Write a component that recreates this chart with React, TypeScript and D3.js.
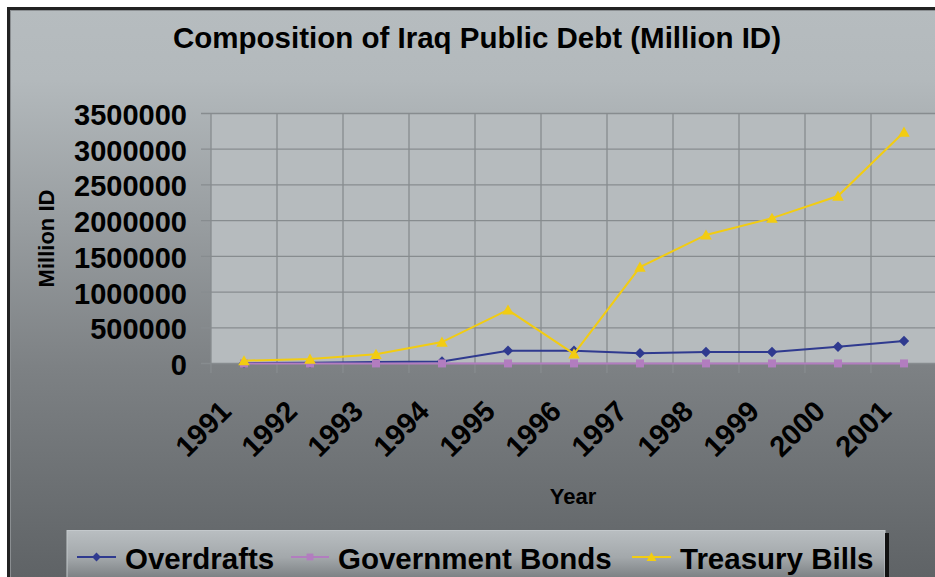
import React from 'react';
import * as d3 from 'd3';

const years = ['1991', '1992', '1993', '1994', '1995', '1996', '1997', '1998', '1999', '2000', '2001'];
const overdrafts = [5000, 10000, 20000, 28000, 180000, 180000, 145000, 160000, 160000, 235000, 315000];
const governmentBonds = [1000, 1000, 1000, 1000, 1000, 1000, 1000, 1000, 1000, 1000, 1000];
const treasuryBills = [40000, 63000, 130000, 300000, 750000, 135000, 1350000, 1800000, 2035000, 2345000, 3240000];
const yTicks = [0, 500000, 1000000, 1500000, 2000000, 2500000, 3000000, 3500000];
const seriesNames = ['Overdrafts', 'Government Bonds', 'Treasury Bills'];

const FONT = '"Liberation Sans", Arial, Helvetica, sans-serif';
const W = 935;
const H = 577;

const diamond = (cx: number, cy: number, r: number) =>
  `M${cx},${cy - r}L${cx + r},${cy}L${cx},${cy + r}L${cx - r},${cy}Z`;
const square = (cx: number, cy: number, r: number) =>
  `M${cx - r},${cy - r}H${cx + r}V${cy + r}H${cx - r}Z`;
const triangle = (cx: number, cy: number, r: number) =>
  `M${cx},${cy - r}L${cx + r * 1.05},${cy + r * 0.85}L${cx - r * 1.05},${cy + r * 0.85}Z`;

export default function App() {
  const x = d3.scaleBand<string>().domain(years).range([211, 937]).padding(0);
  const y = d3.scaleLinear().domain([0, 3500000]).range([363.5, 113.5]);
  const cx = (yr: string) => (x(yr) as number) + x.bandwidth() / 2;

  const line = d3
    .line<number>()
    .x((_, i) => cx(years[i]))
    .y((d) => y(d));

  const series = [
    { name: seriesNames[0], data: overdrafts, color: '#2f3a8f', marker: diamond, r: 5.2, width: 2 },
    { name: seriesNames[1], data: governmentBonds, color: '#b27dbf', marker: square, r: 4, width: 2 },
    { name: seriesNames[2], data: treasuryBills, color: '#f2cc12', marker: triangle, r: 5.5, width: 2 },
  ];

  const bandEdges = years.map((yr) => x(yr) as number).concat([x.range()[1]]);

  const legendItems = [
    { s: series[0], x0: 77, x1: 116, tx: 125 },
    { s: series[1], x0: 291, x1: 329, tx: 338 },
    { s: series[2], x0: 632, x1: 671, tx: 680 },
  ];

  return (
    <svg
      width={W}
      height={H}
      style={{ position: 'absolute', left: 0, top: 0, background: '#ffffff' }}
      fontFamily={FONT}
    >
      <defs>
        <linearGradient id="bgGrad" x1="0" y1="0" x2="0" y2="1">
          <stop offset="0" stopColor="#b6bcbf" />
          <stop offset="0.12" stopColor="#b3b9bc" />
          <stop offset="0.6" stopColor="#7d8184" />
          <stop offset="1" stopColor="#5b5f62" />
        </linearGradient>
        <linearGradient id="legGrad" x1="0" y1="0" x2="0" y2="1">
          <stop offset="0" stopColor="#b9bec1" />
          <stop offset="0.45" stopColor="#a3a8ab" />
          <stop offset="1" stopColor="#64686b" />
        </linearGradient>
      </defs>

      {/* frame */}
      <rect x={8.5} y={8.5} width={W + 20} height={H + 20} fill="url(#bgGrad)" stroke="#222" strokeWidth={3} />
      <rect x={10.5} y={10.5} width={W + 20} height={H + 20} fill="none" stroke="#8a8e91" strokeWidth={1} />

      {/* title */}
      <text x={477} y={48} textAnchor="middle" fontSize={29.5} fontWeight="bold" fill="#000">
        Composition of Iraq Public Debt (Million ID)
      </text>

      {/* plot area */}
      <rect x={211} y={113.5} width={726} height={250} fill="#b6bbbe" />

      {/* horizontal gridlines */}
      {yTicks.map((t) => (
        <line key={'h' + t} x1={201} x2={937} y1={y(t)} y2={y(t)} stroke="#878c8f" strokeWidth={1.3} />
      ))}
      {/* vertical gridlines and ticks */}
      {bandEdges.map((e, i) => (
        <line key={'v' + i} x1={e} x2={e} y1={113.5} y2={373} stroke="#878c8f" strokeWidth={1.3} />
      ))}

      {/* y tick labels */}
      {yTicks.map((t) => (
        <text key={'yl' + t} x={187} y={y(t) + 11.5} textAnchor="end" fontSize={29} fontWeight="bold" fill="#000">
          {String(t)}
        </text>
      ))}

      {/* y axis title */}
      <text
        transform={`translate(53.5,238.5) rotate(-90)`}
        textAnchor="middle"
        fontSize={22}
        fontWeight="bold"
        fill="#000"
      >
        Million ID
      </text>

      {/* x tick labels */}
      {years.map((yr) => (
        <text
          key={'xl' + yr}
          transform={`translate(${cx(yr) - 11},${413}) rotate(-45)`}
          textAnchor="end"
          fontSize={29}
          fontWeight="bold"
          fill="#000"
        >
          {yr}
        </text>
      ))}

      {/* x axis title */}
      <text x={573} y={504} textAnchor="middle" fontSize={22} fontWeight="bold" fill="#000">
        Year
      </text>

      {/* series */}
      {series.map((s) => (
        <g key={s.name}>
          <path d={line(s.data) || ''} fill="none" stroke={s.color} strokeWidth={s.width} />
          {s.data.map((v, i) => (
            <path key={i} d={s.marker(cx(years[i]), y(v), s.r)} fill={s.color} />
          ))}
        </g>
      ))}

      {/* legend */}
      <rect x={67} y={530.5} width={818} height={60} fill="url(#legGrad)" stroke="#c4c9cc" strokeWidth={1} />
      <line x1={887} x2={887} y1={533} y2={H} stroke="#111" strokeWidth={4} />
      {legendItems.map((it) => (
        <g key={it.s.name}>
          <line x1={it.x0} x2={it.x1} y1={557} y2={557} stroke={it.s.color} strokeWidth={1.8} />
          <path d={it.s.marker((it.x0 + it.x1) / 2, 557, it.s.r * 0.85)} fill={it.s.color} />
          <text x={it.tx} y={568.5} fontSize={29.5} fontWeight="bold" fill="#000">
            {it.s.name}
          </text>
        </g>
      ))}
    </svg>
  );
}
